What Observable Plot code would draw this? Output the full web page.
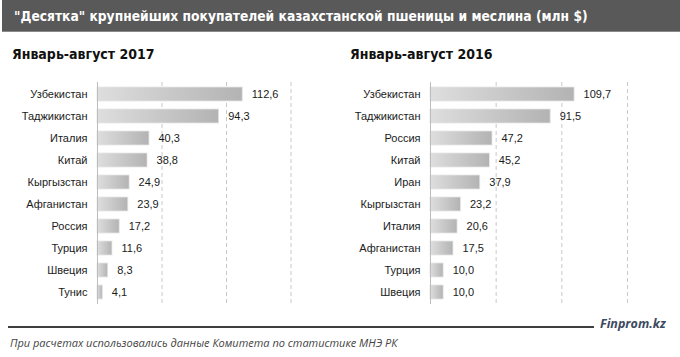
<!DOCTYPE html>
<html>
<head>
<meta charset="utf-8">
<script src="https://cdn.jsdelivr.net/npm/d3@7"></script>
<script src="https://cdn.jsdelivr.net/npm/@observablehq/plot@0.6"></script>
<style>
  html, body { margin: 0; padding: 0; background: #fff; }
  #page { position: relative; width: 680px; height: 357px; overflow: hidden; font-family: "Liberation Sans", Arial, sans-serif; }
  #titlebar { position: absolute; left: 2px; top: 0; width: 678px; height: 32px; background: #595959; border-bottom: 1px solid #8a8a8a; box-sizing: border-box; }
  #title { position: absolute; left: 12px; top: 8px; color: #fff; font-family: "Liberation Sans Narrow", "DejaVu Sans Condensed", sans-serif; font-weight: bold; font-size: 13.7px; white-space: nowrap; }
  .sub { position: absolute; top: 46px; color: #111; font-family: "Liberation Sans Narrow", "DejaVu Sans Condensed", sans-serif; font-weight: bold; font-size: 14px; white-space: nowrap; }
  .plot { position: absolute; top: 70px; }
  #rule { position: absolute; left: 8px; top: 326px; width: 586px; height: 0; border-top: 2px solid #3f3f3f; }
  #brand { position: absolute; left: 600px; top: 315px; color: #3c4a60; font-family: "Open Sans", sans-serif; font-style: italic; font-weight: bold; font-size: 12.5px; white-space: nowrap; }
  #caption { position: absolute; left: 10px; top: 335px; color: #444; font-family: "Open Sans", sans-serif; font-style: italic; font-size: 11px; white-space: nowrap; }
</style>
</head>
<body>
<div id="page">
  <div id="titlebar"><div id="title">"Десятка" крупнейших покупателей казахстанской пшеницы и меслина (млн $)</div></div>
  <div class="sub" style="left:12px">Январь-август 2017</div>
  <div class="sub" style="left:350px">Январь-август 2016</div>
  <div class="plot" id="left" style="left:0px"></div>
  <div class="plot" id="right" style="left:340px"></div>
  <div id="rule"></div>
  <div id="brand">Finprom.kz</div>
  <div id="caption">При расчетах использовались данные Комитета по статистике МНЭ РК</div>
</div>
<script>
const countries2017 = ["Узбекистан", "Таджикистан", "Италия", "Китай", "Кыргызстан", "Афганистан", "Россия", "Турция", "Швеция", "Тунис"];
const values2017 = [112.6, 94.3, 40.3, 38.8, 24.9, 23.9, 17.2, 11.6, 8.3, 4.1];
const countries2016 = ["Узбекистан", "Таджикистан", "Россия", "Китай", "Иран", "Кыргызстан", "Италия", "Афганистан", "Турция", "Швеция"];
const values2016 = [109.7, 91.5, 47.2, 45.2, 37.9, 23.2, 20.6, 17.5, 10.0, 10.0];
const gridTicks = [50, 100, 150];

const fmt = v => v.toFixed(1).replace(".", ",");

function makeChart(countries, values, opts) {
  const data = countries.map((c, i) => ({country: c, value: values[i]}));
  const gid = "grad-" + opts.id;
  const chart = Plot.plot({
    width: 340,
    height: 240,
    marginTop: 12,
    marginBottom: 6,
    marginLeft: opts.marginLeft,
    marginRight: opts.marginRight,
    style: {fontFamily: "'Liberation Sans', Arial, sans-serif", fontSize: "11px", color: "#222", background: "transparent"},
    x: {domain: [0, 180], axis: null},
    y: {domain: countries, paddingInner: 0.374, paddingOuter: 0.149, axis: null},
    marks: [
      Plot.gridX(gridTicks, {stroke: "#c8c8c8", strokeOpacity: 1, strokeDasharray: "4,3"}),
      Plot.barX(data, {x: "value", y: "country", fill: `url(#${gid})`, stroke: "#e6e6e6", strokeWidth: 0.8}),
      Plot.ruleX([0], {stroke: "#bdbdbd", strokeWidth: 1}),
      Plot.text(data, {x: 0, y: "country", text: "country", textAnchor: "end", dx: -10, fill: "#1a1a1a", fontSize: 11}),
      Plot.text(data, {x: "value", y: "country", text: d => fmt(d.value), textAnchor: "start", dx: 9, fill: "#1a1a1a", fontSize: 11})
    ]
  });
  const svg = d3.select(chart);
  const grad = svg.insert("defs", ":first-child").append("linearGradient")
    .attr("id", gid).attr("x1", "0").attr("x2", "1").attr("y1", "0").attr("y2", "0");
  grad.append("stop").attr("offset", "0%").attr("stop-color", "#dedede");
  grad.append("stop").attr("offset", "100%").attr("stop-color", "#b3b3b3");
  return chart;
}

document.getElementById("left").appendChild(makeChart(countries2017, values2017, {id: "l", marginLeft: 97, marginRight: 10.8}));
document.getElementById("right").appendChild(makeChart(countries2016, values2016, {id: "r", marginLeft: 90, marginRight: 13.6}));
</script>
</body>
</html>
